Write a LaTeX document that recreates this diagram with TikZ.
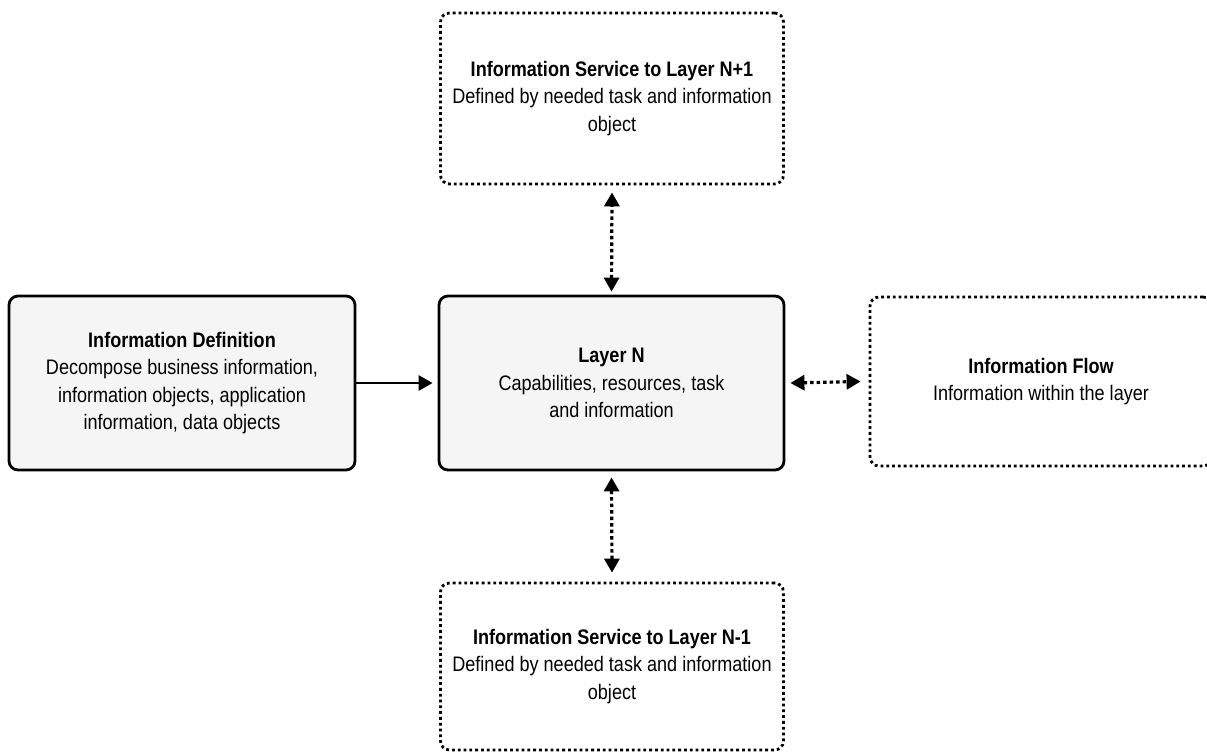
\documentclass[tikz,border=0pt]{standalone}
\usepackage{fontspec}
\setmainfont{Liberation Sans}[FakeStretch=0.86]
\usetikzlibrary{arrows.meta}
\definecolor{boxfill}{RGB}{244,245,244}
\tikzset{
  headtip/.tip={Triangle[length=14pt,width=15pt]},
  base/.style={rounded corners=9pt, align=center, inner sep=0pt,
    font=\fontsize{21}{27.3}\selectfont, line width=2.8pt},
  solidbox/.style={base, draw=black, fill=boxfill},
  dotbox/.style={base, draw=black, dash pattern=on 2.8pt off 3pt},
  tip/.style={-headtip},
  biarrow/.style={headtip-headtip},
  dotline/.style={line width=3.2pt, dash pattern=on 3.5pt off 3pt},
  conn/.style={line width=2.8pt}
}
\begin{document}
\begin{tikzpicture}[x=1pt,y=-1pt]
\useasboundingbox (0,0) rectangle (1207,752);
\node[dotbox, minimum width=343pt, minimum height=171pt] (top) at (612,98.5)
  {\textbf{Information Service to Layer N+1}\\Defined by needed task and information\\object};
\node[solidbox, minimum width=345pt, minimum height=174pt] (mid) at (611.5,383)
  {\textbf{Layer N}\\Capabilities, resources, task\\and information};
\node[solidbox, minimum width=346pt, minimum height=174pt] (left) at (182,383)
  {\textbf{Information Definition}\\Decompose business information,\\information objects, application\\information, data objects};
\node[dotbox, minimum width=342pt, minimum height=169pt] (right) at (1041,381.5)
  {\textbf{Information Flow}\\Information within the layer};
\node[dotbox, minimum width=343pt, minimum height=167pt] (bot) at (612,666.5)
  {\textbf{Information Service to Layer N-1}\\Defined by needed task and information\\object};
\draw[conn, tip] (left.east) -- ([xshift=-5pt]mid.west);
\draw[dotline, biarrow] ([xshift=5pt]mid.east) -- ([xshift=-8pt]right.west);
\draw[dotline, biarrow] ([yshift=3pt]mid.north) -- ([yshift=-7pt]top.south);
\draw[dotline, biarrow] ([yshift=-6pt]mid.south) -- ([yshift=9pt]bot.north);
\end{tikzpicture}
\end{document}
